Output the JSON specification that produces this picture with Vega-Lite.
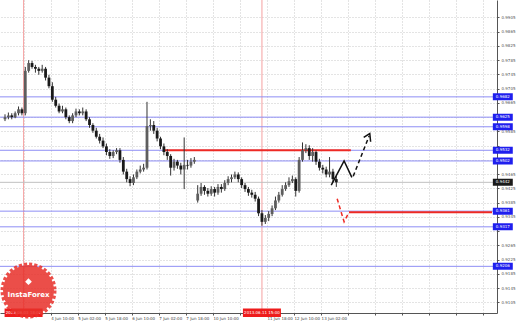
{
  "$schema": "https://vega.github.io/schema/vega-lite/v6.json",
  "width": 497,
  "height": 313,
  "autosize": {"type": "none"},
  "padding": {"left": 0, "top": 0, "right": 21, "bottom": 8},
  "background": "white",
  "config": {
    "view": {"stroke": null},
    "font": "DejaVu Sans",
    "axis": {"title": null, "labelOverlap": false, "labelFlush": false, "labelBound": false, "tickCount": 60}
  },
  "datasets": {
    "candles": [
      {"t":0,"o":0.9619,"h":0.9633,"l":0.9614,"c":0.9625},
      {"t":2,"o":0.9625,"h":0.9638,"l":0.9619,"c":0.9630},
      {"t":4,"o":0.9630,"h":0.9636,"l":0.9619,"c":0.9625},
      {"t":6,"o":0.9625,"h":0.9641,"l":0.9622,"c":0.9636},
      {"t":8,"o":0.9636,"h":0.9655,"l":0.9630,"c":0.9647},
      {"t":10,"o":0.9647,"h":0.9652,"l":0.9630,"c":0.9636},
      {"t":12,"o":0.9636,"h":0.9766,"l":0.9630,"c":0.9755},
      {"t":14,"o":0.9755,"h":0.9785,"l":0.9750,"c":0.9777},
      {"t":16,"o":0.9777,"h":0.9783,"l":0.9761,"c":0.9766},
      {"t":18,"o":0.9766,"h":0.9772,"l":0.9750,"c":0.9761},
      {"t":20,"o":0.9761,"h":0.9766,"l":0.9744,"c":0.9755},
      {"t":22,"o":0.9755,"h":0.9772,"l":0.9750,"c":0.9761},
      {"t":24,"o":0.9761,"h":0.9766,"l":0.9728,"c":0.9736},
      {"t":26,"o":0.9736,"h":0.9744,"l":0.9706,"c":0.9712},
      {"t":28,"o":0.9712,"h":0.9723,"l":0.9668,"c":0.9674},
      {"t":30,"o":0.9674,"h":0.9682,"l":0.9652,"c":0.9657},
      {"t":32,"o":0.9657,"h":0.9663,"l":0.9636,"c":0.9641},
      {"t":34,"o":0.9641,"h":0.9657,"l":0.9636,"c":0.9647},
      {"t":36,"o":0.9647,"h":0.9652,"l":0.9619,"c":0.9625},
      {"t":38,"o":0.9625,"h":0.9630,"l":0.9608,"c":0.9614},
      {"t":40,"o":0.9614,"h":0.9636,"l":0.9608,"c":0.9630},
      {"t":42,"o":0.9630,"h":0.9649,"l":0.9625,"c":0.9641},
      {"t":44,"o":0.9641,"h":0.9647,"l":0.9630,"c":0.9636},
      {"t":46,"o":0.9636,"h":0.9652,"l":0.9630,"c":0.9641},
      {"t":48,"o":0.9641,"h":0.9647,"l":0.9614,"c":0.9619},
      {"t":50,"o":0.9619,"h":0.9625,"l":0.9595,"c":0.9603},
      {"t":52,"o":0.9603,"h":0.9608,"l":0.9581,"c":0.9587},
      {"t":54,"o":0.9587,"h":0.9595,"l":0.9565,"c":0.9570},
      {"t":56,"o":0.9570,"h":0.9578,"l":0.9551,"c":0.9559},
      {"t":58,"o":0.9559,"h":0.9568,"l":0.9538,"c":0.9543},
      {"t":60,"o":0.9543,"h":0.9551,"l":0.9518,"c":0.9527},
      {"t":62,"o":0.9527,"h":0.9535,"l":0.9508,"c":0.9516},
      {"t":64,"o":0.9516,"h":0.9532,"l":0.9510,"c":0.9527},
      {"t":66,"o":0.9527,"h":0.9538,"l":0.9521,"c":0.9532},
      {"t":68,"o":0.9532,"h":0.9538,"l":0.9497,"c":0.9505},
      {"t":70,"o":0.9505,"h":0.9513,"l":0.9464,"c":0.9472},
      {"t":72,"o":0.9472,"h":0.9480,"l":0.9442,"c":0.9451},
      {"t":74,"o":0.9451,"h":0.9459,"l":0.9431,"c":0.9440},
      {"t":76,"o":0.9440,"h":0.9464,"l":0.9434,"c":0.9456},
      {"t":78,"o":0.9456,"h":0.9478,"l":0.9451,"c":0.9472},
      {"t":80,"o":0.9472,"h":0.9489,"l":0.9467,"c":0.9478},
      {"t":82,"o":0.9478,"h":0.9494,"l":0.9472,"c":0.9483},
      {"t":84,"o":0.9483,"h":0.9668,"l":0.9478,"c":0.9600},
      {"t":86,"o":0.9600,"h":0.9619,"l":0.9587,"c":0.9603},
      {"t":88,"o":0.9603,"h":0.9614,"l":0.9578,"c":0.9587},
      {"t":90,"o":0.9587,"h":0.9595,"l":0.9557,"c":0.9565},
      {"t":92,"o":0.9565,"h":0.9570,"l":0.9535,"c":0.9543},
      {"t":94,"o":0.9543,"h":0.9551,"l":0.9518,"c":0.9527},
      {"t":96,"o":0.9527,"h":0.9535,"l":0.9505,"c":0.9516},
      {"t":98,"o":0.9516,"h":0.9521,"l":0.9461,"c":0.9483},
      {"t":100,"o":0.9483,"h":0.9508,"l":0.9475,"c":0.9500},
      {"t":102,"o":0.9500,"h":0.9505,"l":0.9480,"c":0.9489},
      {"t":104,"o":0.9489,"h":0.9497,"l":0.9464,"c":0.9478},
      {"t":106,"o":0.9478,"h":0.9568,"l":0.9423,"c":0.9491},
      {"t":108,"o":0.9491,"h":0.9505,"l":0.9478,"c":0.9489},
      {"t":110,"o":0.9489,"h":0.9510,"l":0.9483,"c":0.9500},
      {"t":112,"o":0.9500,"h":0.9513,"l":0.9494,"c":0.9505},
      {"t":114,"o":0.9391,"h":0.9434,"l":0.9385,"c":0.9410},
      {"t":116,"o":0.9410,"h":0.9440,"l":0.9404,"c":0.9429},
      {"t":118,"o":0.9429,"h":0.9434,"l":0.9407,"c":0.9418},
      {"t":120,"o":0.9418,"h":0.9426,"l":0.9402,"c":0.9410},
      {"t":122,"o":0.9410,"h":0.9431,"l":0.9404,"c":0.9423},
      {"t":124,"o":0.9423,"h":0.9429,"l":0.9402,"c":0.9413},
      {"t":126,"o":0.9413,"h":0.9437,"l":0.9407,"c":0.9429},
      {"t":128,"o":0.9429,"h":0.9437,"l":0.9413,"c":0.9423},
      {"t":130,"o":0.9423,"h":0.9448,"l":0.9418,"c":0.9440},
      {"t":132,"o":0.9440,"h":0.9459,"l":0.9434,"c":0.9451},
      {"t":134,"o":0.9451,"h":0.9464,"l":0.9442,"c":0.9456},
      {"t":136,"o":0.9456,"h":0.9472,"l":0.9451,"c":0.9464},
      {"t":138,"o":0.9464,"h":0.9470,"l":0.9442,"c":0.9451},
      {"t":140,"o":0.9451,"h":0.9456,"l":0.9426,"c":0.9434},
      {"t":142,"o":0.9434,"h":0.9440,"l":0.9415,"c":0.9423},
      {"t":144,"o":0.9423,"h":0.9429,"l":0.9404,"c":0.9413},
      {"t":146,"o":0.9413,"h":0.9421,"l":0.9399,"c":0.9407},
      {"t":148,"o":0.9407,"h":0.9415,"l":0.9388,"c":0.9396},
      {"t":150,"o":0.9396,"h":0.9402,"l":0.9347,"c":0.9355},
      {"t":152,"o":0.9355,"h":0.9364,"l":0.9320,"c":0.9331},
      {"t":154,"o":0.9331,"h":0.9350,"l":0.9325,"c":0.9342},
      {"t":156,"o":0.9342,"h":0.9361,"l":0.9333,"c":0.9353},
      {"t":158,"o":0.9353,"h":0.9377,"l":0.9347,"c":0.9369},
      {"t":160,"o":0.9369,"h":0.9402,"l":0.9364,"c":0.9391},
      {"t":162,"o":0.9391,"h":0.9415,"l":0.9385,"c":0.9407},
      {"t":164,"o":0.9407,"h":0.9434,"l":0.9402,"c":0.9423},
      {"t":166,"o":0.9423,"h":0.9442,"l":0.9418,"c":0.9434},
      {"t":168,"o":0.9434,"h":0.9456,"l":0.9429,"c":0.9445},
      {"t":170,"o":0.9445,"h":0.9461,"l":0.9440,"c":0.9451},
      {"t":172,"o":0.9451,"h":0.9456,"l":0.9402,"c":0.9418},
      {"t":174,"o":0.9418,"h":0.9513,"l":0.9413,"c":0.9505},
      {"t":176,"o":0.9505,"h":0.9554,"l":0.9500,"c":0.9532},
      {"t":178,"o":0.9532,"h":0.9549,"l":0.9524,"c":0.9538},
      {"t":180,"o":0.9538,"h":0.9546,"l":0.9505,"c":0.9516},
      {"t":182,"o":0.9516,"h":0.9538,"l":0.9500,"c":0.9527},
      {"t":184,"o":0.9527,"h":0.9532,"l":0.9491,"c":0.9500},
      {"t":186,"o":0.9500,"h":0.9508,"l":0.9475,"c":0.9483},
      {"t":188,"o":0.9483,"h":0.9491,"l":0.9467,"c":0.9478},
      {"t":190,"o":0.9478,"h":0.9486,"l":0.9456,"c":0.9464},
      {"t":192,"o":0.9464,"h":0.9513,"l":0.9456,"c":0.9472},
      {"t":194,"o":0.9472,"h":0.9480,"l":0.9442,"c":0.9451},
      {"t":196,"o":0.9451,"h":0.9459,"l":0.9429,"c":0.9442}
    ],
    "levels": [
      {"p":0.9682},
      {"p":0.9625},
      {"p":0.9598},
      {"p":0.9532},
      {"p":0.9502},
      {"p":0.9361},
      {"p":0.9317},
      {"p":0.9206}
    ],
    "current": [{"p":0.9442}],
    "redseg": [
      {"t1":94.5,"t2":204.6,"p":0.9532},
      {"t1":203.5,"t2":288.1,"p":0.9358}
    ],
    "vlines": [
      {"t":11,"label":"2013.06.03 18:00"},
      {"t":152,"label":"2013.06.11 15:00"}
    ],
    "proj": [
      {"g":"bs","i":1,"t":193.0,"p":0.9434},
      {"g":"bs","i":2,"t":200.6,"p":0.9502},
      {"g":"bs","i":3,"t":205.2,"p":0.9456},
      {"g":"bd","i":1,"t":206.0,"p":0.9459},
      {"g":"bd","i":2,"t":215.4,"p":0.9572},
      {"g":"ba","i":1,"t":212.2,"p":0.9568},
      {"g":"ba","i":2,"t":215.8,"p":0.9579},
      {"g":"ba","i":3,"t":216.3,"p":0.9556},
      {"g":"rd","i":1,"t":196.5,"p":0.9396},
      {"g":"rd","i":2,"t":200.6,"p":0.9331},
      {"g":"rd","i":3,"t":203.5,"p":0.9358}
    ]
  },
  "layer": [
    {
      "data": {"name": "vlines"},
      "mark": {"type": "rule", "color": "#f5a0a0", "strokeWidth": 1},
      "encoding": {
        "x": {
          "field": "t", "type": "quantitative",
          "scale": {"domain": [0, 288.1], "nice": false, "zero": false},
          "axis": {
            "orient": "bottom",
            "values": [11,27,43,59,75,91,107,123,139,155,171,187,203,219,235,251,267,283],
            "tickCount": 60,
            "labelExpr": "['', '4 Jun 10:00', '5 Jun 02:00', '5 Jun 18:00', '6 Jun 10:00', '7 Jun 02:00', '7 Jun 18:00', '10 Jun 10:00', '', '11 Jun 18:00', '12 Jun 10:00', '13 Jun 02:00', '', '', '', '', '', ''][round((datum.value - 11) / 16)]",
            "labelAlign": "left",
            "labelBaseline": "top",
            "labelFontSize": 4,
            "labelColor": "#444",
            "labelPadding": 1,
            "labelOverlap": false,
            "labelFlush": false,
            "tickSize": 2,
            "tickColor": "#555",
            "domainColor": "#555",
            "grid": true,
            "gridColor": "#c8c8c8",
            "gridDash": [1, 2],
            "title": null
          }
        }
      }
    },
    {
      "data": {"name": "levels"},
      "mark": {"type": "rule", "color": "#8e8ef5", "strokeWidth": 1},
      "encoding": {
        "y": {
          "field": "p", "type": "quantitative",
          "scale": {"domain": [0.9089, 0.9940], "nice": false, "zero": false},
          "axis": {
            "orient": "right",
            "values": [0.9905,0.9865,0.9825,0.9785,0.9745,0.9705,0.9665,0.9625,0.9585,0.9545,0.9505,0.9465,0.9425,0.9385,0.9345,0.9305,0.9265,0.9225,0.9185,0.9145,0.9105],
            "tickCount": 60,
            "labelExpr": "indexof(['0.9625','0.9545','0.9505','0.9305'], format(datum.value, '.4f')) >= 0 ? '' : format(datum.value, '.4f')",
            "labelFontSize": 4,
            "labelColor": "#555",
            "labelPadding": 2,
            "labelOverlap": false,
            "tickSize": 2,
            "tickColor": "#555",
            "domainColor": "#555",
            "grid": true,
            "gridColor": "#c8c8c8",
            "gridDash": [1, 2],
            "title": null
          }
        }
      }
    },
    {
      "data": {"name": "current"},
      "mark": {"type": "rule", "color": "#c0c0c0", "strokeWidth": 1},
      "encoding": {
        "y": {"field": "p", "type": "quantitative", "scale": {"domain": [0.9089, 0.9940], "nice": false, "zero": false}}
      }
    },
    {
      "data": {"name": "redseg"},
      "mark": {"type": "rule", "color": "#ee2a24", "strokeWidth": 2},
      "encoding": {
        "x": {"field": "t1", "type": "quantitative", "scale": {"domain": [0, 288.1], "nice": false, "zero": false}},
        "x2": {"field": "t2"},
        "y": {"field": "p", "type": "quantitative", "scale": {"domain": [0.9089, 0.9940], "nice": false, "zero": false}}
      }
    },
    {
      "data": {"name": "candles"},
      "mark": {"type": "rule", "color": "#333333", "strokeWidth": 1},
      "encoding": {
        "x": {"field": "t", "type": "quantitative", "scale": {"domain": [0, 288.1], "nice": false, "zero": false}},
        "y": {"field": "l", "type": "quantitative", "scale": {"domain": [0.9089, 0.9940], "nice": false, "zero": false}},
        "y2": {"field": "h"}
      }
    },
    {
      "data": {"name": "candles"},
      "mark": {"type": "bar", "orient": "vertical", "size": 2.8},
      "encoding": {
        "x": {"field": "t", "type": "quantitative", "scale": {"domain": [0, 288.1], "nice": false, "zero": false}},
        "y": {"field": "o", "type": "quantitative", "scale": {"domain": [0.9089, 0.9940], "nice": false, "zero": false}},
        "y2": {"field": "c"},
        "color": {"condition": {"test": "datum.c > datum.o", "value": "#5e5e5e"}, "value": "#1a1a1a"}
      }
    },
    {
      "data": {"name": "proj"},
      "transform": [{"filter": "datum.g == 'bs' || datum.g == 'ba'"}],
      "mark": {"type": "line", "color": "#111111", "strokeWidth": 1.5},
      "encoding": {
        "x": {"field": "t", "type": "quantitative", "scale": {"domain": [0, 288.1], "nice": false, "zero": false}},
        "y": {"field": "p", "type": "quantitative", "scale": {"domain": [0.9089, 0.9940], "nice": false, "zero": false}},
        "detail": {"field": "g"},
        "order": {"field": "i"}
      }
    },
    {
      "data": {"name": "proj"},
      "transform": [{"filter": "datum.g == 'bd'"}],
      "mark": {"type": "line", "color": "#111111", "strokeWidth": 1.5, "strokeDash": [4, 3]},
      "encoding": {
        "x": {"field": "t", "type": "quantitative", "scale": {"domain": [0, 288.1], "nice": false, "zero": false}},
        "y": {"field": "p", "type": "quantitative", "scale": {"domain": [0.9089, 0.9940], "nice": false, "zero": false}},
        "order": {"field": "i"}
      }
    },
    {
      "data": {"name": "proj"},
      "transform": [{"filter": "datum.g == 'rd'"}],
      "mark": {"type": "line", "color": "#ee2a24", "strokeWidth": 1.5, "strokeDash": [4, 3]},
      "encoding": {
        "x": {"field": "t", "type": "quantitative", "scale": {"domain": [0, 288.1], "nice": false, "zero": false}},
        "y": {"field": "p", "type": "quantitative", "scale": {"domain": [0.9089, 0.9940], "nice": false, "zero": false}},
        "order": {"field": "i"}
      }
    },
    {
      "data": {"name": "levels"},
      "mark": {"type": "bar", "orient": "horizontal", "size": 7, "color": "#1f1fee"},
      "encoding": {
        "x": {"datum": 288.6, "scale": {"domain": [0, 288.1], "nice": false, "zero": false}},
        "x2": {"datum": 300.4},
        "y": {"field": "p", "type": "quantitative", "scale": {"domain": [0.9089, 0.9940], "nice": false, "zero": false}}
      }
    },
    {
      "data": {"name": "current"},
      "mark": {"type": "bar", "orient": "horizontal", "size": 7, "color": "#1a1a1a"},
      "encoding": {
        "x": {"datum": 288.6, "scale": {"domain": [0, 288.1], "nice": false, "zero": false}},
        "x2": {"datum": 300.4},
        "y": {"field": "p", "type": "quantitative", "scale": {"domain": [0.9089, 0.9940], "nice": false, "zero": false}}
      }
    },
    {
      "data": {"name": "levels"},
      "mark": {"type": "text", "color": "white", "fontSize": 4, "align": "center", "baseline": "middle"},
      "encoding": {
        "x": {"datum": 294.5, "scale": {"domain": [0, 288.1], "nice": false, "zero": false}},
        "y": {"field": "p", "type": "quantitative", "scale": {"domain": [0.9089, 0.9940], "nice": false, "zero": false}},
        "text": {"field": "p", "type": "quantitative", "format": ".4f"}
      }
    },
    {
      "data": {"name": "current"},
      "mark": {"type": "text", "color": "white", "fontSize": 4, "align": "center", "baseline": "middle"},
      "encoding": {
        "x": {"datum": 294.5, "scale": {"domain": [0, 288.1], "nice": false, "zero": false}},
        "y": {"field": "p", "type": "quantitative", "scale": {"domain": [0.9089, 0.9940], "nice": false, "zero": false}},
        "text": {"field": "p", "type": "quantitative", "format": ".4f"}
      }
    },
    {
      "data": {"name": "vlines"},
      "mark": {"type": "bar", "orient": "vertical", "size": 38, "color": "#ee1c1c"},
      "encoding": {
        "x": {"field": "t", "type": "quantitative", "scale": {"domain": [0, 288.1], "nice": false, "zero": false}},
        "y": {"datum": 0.90875, "scale": {"domain": [0.9089, 0.9940], "nice": false, "zero": false}},
        "y2": {"datum": 0.90635}
      }
    },
    {
      "data": {"name": "vlines"},
      "mark": {"type": "text", "color": "white", "fontSize": 4, "align": "center", "baseline": "middle"},
      "encoding": {
        "x": {"field": "t", "type": "quantitative", "scale": {"domain": [0, 288.1], "nice": false, "zero": false}},
        "y": {"datum": 0.90755, "scale": {"domain": [0.9089, 0.9940], "nice": false, "zero": false}},
        "text": {"field": "label"}
      }
    },
    {
      "data": {"values": [{"brand": "InstaForex"}]},
      "mark": {"type": "point", "shape": "circle", "filled": true, "size": 2600, "color": "#e8302a", "opacity": 0.85, "stroke": "#e8302a", "strokeWidth": 5, "strokeDash": [3, 2]},
      "encoding": {
        "x": {"datum": 13.9, "scale": {"domain": [0, 288.1], "nice": false, "zero": false}},
        "y": {"datum": 0.9138, "scale": {"domain": [0.9089, 0.9940], "nice": false, "zero": false}}
      }
    },
    {
      "data": {"values": [{"brand": "InstaForex"}]},
      "mark": {"type": "point", "shape": "diamond", "filled": true, "size": 45, "color": "white", "opacity": 1},
      "encoding": {
        "x": {"datum": 13.9, "scale": {"domain": [0, 288.1], "nice": false, "zero": false}},
        "y": {"datum": 0.9163, "scale": {"domain": [0.9089, 0.9940], "nice": false, "zero": false}}
      }
    },
    {
      "data": {"values": [{"brand": "InstaForex"}]},
      "mark": {"type": "text", "color": "white", "fontSize": 7, "fontWeight": "bold", "align": "center", "baseline": "middle"},
      "encoding": {
        "x": {"datum": 13.9, "scale": {"domain": [0, 288.1], "nice": false, "zero": false}},
        "y": {"datum": 0.9125, "scale": {"domain": [0.9089, 0.9940], "nice": false, "zero": false}},
        "text": {"field": "brand"}
      }
    }
  ]
}
